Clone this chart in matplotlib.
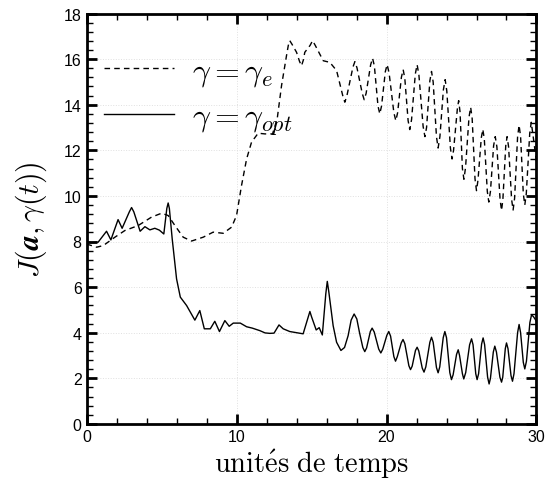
import numpy as np
import matplotlib
matplotlib.use('Agg')
import matplotlib.pyplot as plt
from matplotlib.ticker import MultipleLocator

plt.rcParams['mathtext.fontset'] = 'cm'
plt.rcParams['font.family'] = ['Liberation Sans', 'DejaVu Sans']

# gamma = gamma_opt (solid)
t_opt = [0.0, 0.3, 0.77, 1.33, 1.62, 2.1, 2.37, 2.85, 3.0, 3.15, 3.57, 3.89, 4.22, 4.55,
         4.85, 5.15, 5.35, 5.44, 5.52, 5.71, 6.0, 6.25, 6.67, 7.22, 7.55, 7.85, 8.25, 8.55,
         8.86, 9.22, 9.51, 9.78, 10.25, 10.67, 11.05, 11.55, 11.9, 12.22, 12.5, 12.83,
         13.11, 13.55, 14.0, 14.44, 14.78, 14.89, 15.0, 15.31, 15.51, 15.72, 15.95, 16.05,
         16.15, 16.44, 16.67, 16.96, 17.2, 17.44, 17.64, 17.84, 18.02, 18.2, 18.42, 18.55,
         18.67, 18.92, 19.04, 19.18, 19.48, 19.62, 19.75, 20.02, 20.15, 20.27, 20.49, 20.6,
         20.72, 20.98, 21.1, 21.22, 21.49, 21.6, 21.71, 21.93, 22.04, 22.15, 22.38, 22.5,
         22.62, 22.89, 23.0, 23.11, 23.33, 23.44, 23.55, 23.78, 23.89, 24.0, 24.22, 24.33,
         24.44, 24.67, 24.78, 24.87, 25.06, 25.15, 25.28, 25.54, 25.67, 25.77, 25.95, 26.04,
         26.14, 26.34, 26.44, 26.54, 26.74, 26.84, 26.93, 27.12, 27.22, 27.33, 27.56, 27.67,
         27.75, 27.92, 28.0, 28.1, 28.3, 28.4, 28.5, 28.74, 28.84, 28.94, 29.12, 29.22,
         29.33, 29.56, 29.67, 29.8, 30.0]
J_opt = [8.0, 7.95, 7.97, 8.45, 8.07, 8.96, 8.58, 9.3, 9.49, 9.3, 8.45, 8.65, 8.51, 8.58,
         8.5, 8.33, 9.45, 9.69, 9.45, 8.11, 6.36, 5.56, 5.19, 4.55, 4.97, 4.17, 4.17, 4.5,
         4.05, 4.53, 4.28, 4.42, 4.42, 4.26, 4.2, 4.09, 3.99, 3.97, 3.98, 4.34,
         4.17, 4.05, 4.0, 3.95, 4.7, 4.93, 4.7, 4.12, 4.22, 3.9, 5.7, 6.25,
         5.8, 4.31, 3.58, 3.22, 3.35, 3.87, 4.55, 4.82, 4.6, 4.0, 3.35, 3.17,
         3.33, 4.05, 4.2, 4.03, 3.28, 3.11, 3.28, 3.88, 4.05, 3.85, 2.95, 2.75,
         2.95, 3.55, 3.7, 3.52, 2.55, 2.38, 2.53, 3.22, 3.36, 3.2, 2.45, 2.27,
         2.5, 3.58, 3.8, 3.58, 2.47, 2.24, 2.5, 3.78, 4.05, 3.78, 2.25, 1.94,
         2.15, 3.05, 3.25, 3.0, 2.2, 1.97, 2.25, 3.47, 3.73, 3.47, 2.2, 1.94,
         2.2, 3.5, 3.77, 3.48, 2.05, 1.75, 2.0, 3.15, 3.41, 3.15, 2.05, 1.83,
         2.05, 3.3, 3.55, 3.3, 2.12, 1.87, 2.2, 4.0, 4.36, 4.0, 2.7, 2.41,
         2.75, 4.45, 4.78, 4.7, 4.5]

# gamma = gamma_e (dashed)
t_e = [0.0, 0.67, 1.11, 1.89, 2.55, 3.44, 4.33, 5.0, 5.44, 5.89, 6.44, 7.0, 7.78, 8.44,
       9.11, 9.67, 10.0, 10.33, 10.67, 11.0, 11.44, 11.89, 12.4, 12.71, 13.0, 13.33, 13.45,
       13.55, 13.7, 14.0, 14.2, 14.33, 14.45, 14.55, 14.9, 15.07, 15.25, 15.78, 16.22,
       16.67, 17.1, 17.22, 17.36, 17.76, 17.89, 18.03, 18.38, 18.51, 18.64, 18.94, 19.07,
       19.19, 19.43, 19.55, 19.67, 19.92, 20.04, 20.17, 20.49, 20.62, 20.74, 20.99, 21.11,
       21.22, 21.44, 21.55, 21.67, 21.92, 22.04, 22.16, 22.44, 22.56, 22.67, 22.89, 23.0,
       23.11, 23.33, 23.44, 23.56, 23.79, 23.91, 24.02, 24.26, 24.37, 24.47, 24.72, 24.81,
       24.9, 25.06, 25.16, 25.27, 25.5, 25.61, 25.71, 25.9, 26.0, 26.1, 26.32, 26.42,
       26.52, 26.72, 26.82, 26.93, 27.14, 27.25, 27.36, 27.57, 27.67, 27.76, 27.95, 28.04,
       28.14, 28.34, 28.44, 28.54, 28.74, 28.84, 28.94, 29.12, 29.22, 29.32, 29.55, 29.65,
       29.75, 30.0]
J_e = [7.89, 7.75, 7.82, 8.19, 8.48, 8.7, 9.07, 9.24, 9.14, 8.7, 8.19, 8.02, 8.19, 8.41,
       8.36, 8.63, 9.14, 10.45, 11.62, 12.36, 12.75, 12.72, 12.72, 13.38, 14.84, 16.15, 16.6,
       16.81, 16.65, 16.3, 15.9, 15.71, 15.95, 16.3, 16.6, 16.81, 16.6, 15.93, 15.86,
       15.5, 14.35, 14.11, 14.4, 15.65, 15.89, 15.62, 14.5, 14.22, 14.5, 15.75, 16.04,
       15.7, 13.95, 13.6, 13.95, 15.45, 15.76, 15.4, 13.65, 13.3, 13.65, 15.2, 15.54,
       15.15, 13.3, 12.91, 13.35, 15.35, 15.76, 15.3, 13.05, 12.6, 13.0, 15.05, 15.46,
       15.0, 12.6, 12.1, 12.6, 14.65, 15.1, 14.6, 12.1, 11.62, 12.0, 13.8, 14.18,
       13.7, 11.2, 10.73, 11.25, 13.45, 13.89, 13.4, 10.75, 10.23, 10.7, 12.55, 12.92,
       12.5, 10.2, 9.73, 10.2, 12.2, 12.6, 12.15, 9.85, 9.36, 9.85, 12.2, 12.6,
       12.15, 9.85, 9.38, 9.9, 12.6, 13.1, 12.6, 10.1, 9.6, 10.1, 12.75, 13.23,
       12.75, 11.5]

fig = plt.figure(figsize=(5.48, 4.85), dpi=100)
ax = fig.add_axes([0.158, 0.124, 0.821, 0.846])

ax.plot(t_e, J_e, color='black', lw=1.0, dashes=(4, 3), label=r'$\gamma = \gamma_e$')
ax.plot(t_opt, J_opt, color='black', lw=1.0, label=r'$\gamma = \gamma_{opt}$')

ax.set_xlim(0, 30)
ax.set_ylim(0, 18)
ax.xaxis.set_major_locator(MultipleLocator(10))
ax.xaxis.set_minor_locator(MultipleLocator(2))
ax.yaxis.set_major_locator(MultipleLocator(2))
ax.yaxis.set_minor_locator(MultipleLocator(0.4))
ax.tick_params(which='both', direction='in', top=True, right=True, labelsize=11.5)
ax.tick_params(which='major', length=7, width=2)
ax.tick_params(which='minor', length=4, width=1)
for s in ax.spines.values():
    s.set_linewidth(2)
ax.grid(True, which='major', color='#e0e0e0', ls=':', lw=0.7)

ax.set_xlabel(r'$\mathrm{unit\acute{e}s\ de\ temps}$', fontsize=20.5, labelpad=2)
ax.set_ylabel(r'$J(\boldsymbol{a},\gamma(t))$', fontsize=21.5, labelpad=11)

ax.legend(loc='upper left', bbox_to_anchor=(-0.026, 0.965), frameon=False, fontsize=23,
          handlelength=2.2, handletextpad=0.56, labelspacing=0.45)

fig.savefig('out.png', dpi=100)
